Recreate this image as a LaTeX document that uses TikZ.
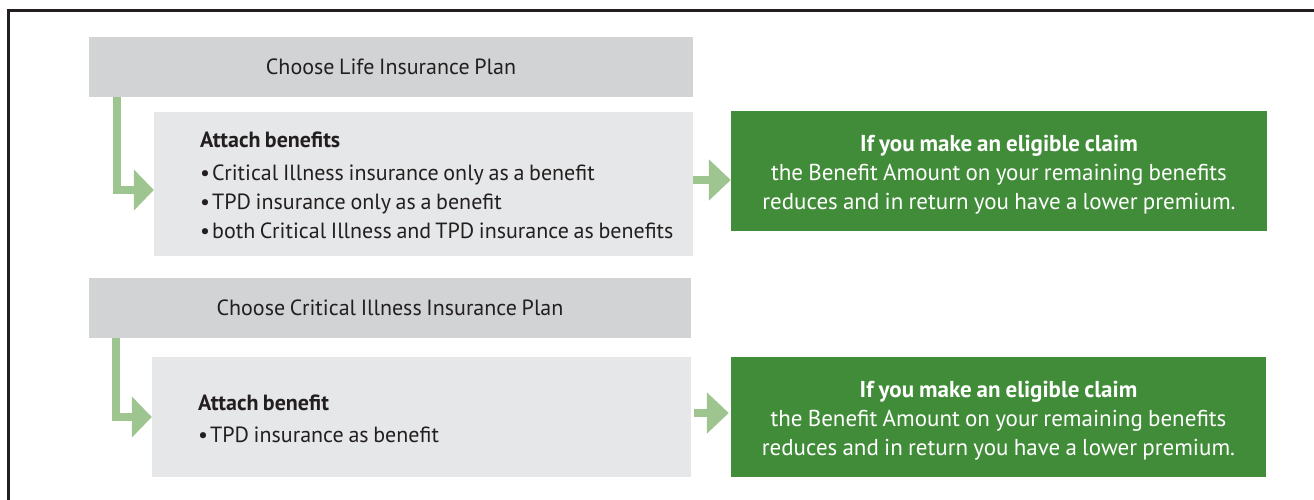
\documentclass[tikz,border=0pt]{standalone}
\usepackage{fontspec}
\setmainfont{PT Sans}[WordSpace=0.8]
\newfontfamily\claimfont{PT Sans}[WordSpace=0.85]
\usetikzlibrary{arrows.meta,calc}
\definecolor{darkgrey}{HTML}{D1D3D4}
\definecolor{lightgrey}{HTML}{E6E7E8}
\definecolor{boxgreen}{HTML}{418C39}
\definecolor{arrowgreen}{HTML}{9EC490}
\definecolor{ink}{HTML}{231F20}
\newcommand{\bul}{\textbullet\hspace{2pt}}
\tikzset{
  txt/.style={inner sep=0pt, font=\fontsize{22}{29}\selectfont},
  planbox/.style={fill=darkgrey, minimum height=60pt, inner sep=0pt, text=ink, txt},
  benefitbox/.style={fill=lightgrey, inner sep=0pt},
  benefittext/.style={txt, align=left, text=ink, anchor=west},
  claimbox/.style={fill=boxgreen, minimum width=536pt, minimum height=120pt, inner sep=0pt},
  claimtext/.style={inner sep=0pt, font=\claimfont\fontsize{23}{29}\selectfont, align=center, text=white},
  bentarrow/.style={draw=arrowgreen, line width=8pt, -{Triangle[length=20pt,width=40pt,fill=arrowgreen]}},
  rightarrow/.style={draw=arrowgreen, line width=8pt, -{Triangle[length=22pt,width=40pt,fill=arrowgreen]}},
}
\begin{document}
\begin{tikzpicture}[x=1pt,y=-1pt]
\useasboundingbox (0,0) rectangle (1314,499);
% frame
\draw[ink, line width=3pt] (8,505) -- (8,10) -- (1320,10);
% top row
\node[planbox, minimum width=604pt] (p1) at (391,67) {Choose Life Insurance Plan};
\node[benefitbox, minimum width=539pt, minimum height=144pt] (b1) at (423.5,184) {};
\node[benefittext] (b1t) at (200,185) {\textbf{Attach benefits}\\[4pt]
\bul Critical Illness insurance only as a benefit\\
\bul TPD insurance only as a benefit\\
\bul both Critical Illness and\hspace{4pt}TPD insurance as benefits};
\node[claimbox] (g1) at (999,171) {};
\node[claimtext] (g1t) at (999,175) {\textbf{If you make an eligible claim}\\
the Benefit Amount on your remaining benefits\\
reduces and in return you have a lower premium.};
% bottom row
\node[planbox, minimum width=602pt] (p2) at (390,307.5) {Choose Critical Illness Insurance Plan};
\node[benefitbox, minimum width=539pt, minimum height=120pt] (b2) at (421.5,417) {};
\node[benefittext] (b2t) at (198,419) {\textbf{Attach benefit}\\[3pt]
\bul TPD insurance as benefit};
\node[claimbox, minimum width=535pt] (g2) at (998.5,417) {};
\node[claimtext] (g2t) at (998.5,421) {\textbf{If you make an eligible claim}\\
the Benefit Amount on your remaining benefits\\
reduces and in return you have a lower premium.};
% connectors
\coordinate (t1) at ($(b1.west)+(0,6)$);
\draw[bentarrow] (p1.south -| 117,0) |- (t1);
\coordinate (t2) at ($(b2.west)+(0,0)$);
\draw[bentarrow] (p2.south -| 116,0) |- (t2);
\draw[rightarrow] ($(b1.east)+(0,-4)$) -- ($(g1.west)+(0,9)$);
\draw[rightarrow] ($(b2.east)+(3,-4)$) -- ($(g2.west)+(-2,-4)$);
\end{tikzpicture}
\end{document}
